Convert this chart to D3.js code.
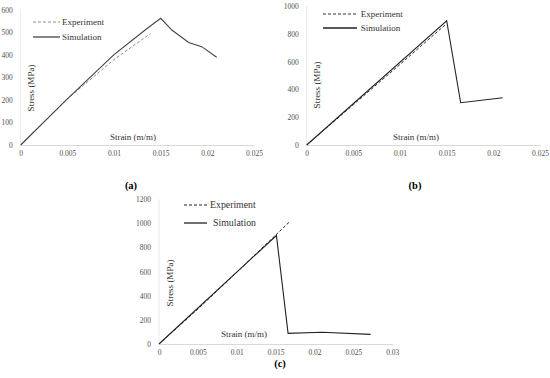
<!DOCTYPE html>
<html>
<head>
<meta charset="utf-8">
<script src="https://cdn.jsdelivr.net/npm/d3@7"></script>
<style>
  html, body { margin: 0; padding: 0; background: #fff; }
  svg { display: block; font-family: "Liberation Serif", "DejaVu Serif", serif; }
</style>
</head>
<body>
<svg id="chart" width="550" height="378"></svg>
<script>
// ---- Data (strain in m/m, stress in MPa) ----
const expA = [[0, 0], [0.005, 205], [0.01, 380], [0.0139, 495]];
const simA = [[0, 0], [0.005, 205], [0.01, 402], [0.0133, 510], [0.015, 563], [0.0162, 511], [0.018, 456], [0.0194, 437], [0.021, 390]];

const expB = [[0, 0], [0.005, 290], [0.01, 580], [0.0149, 868]];
const simB = [[0, 0], [0.015, 894], [0.0165, 304], [0.021, 340]];

const expC = [[0, 0], [0.005, 290], [0.01, 595], [0.0167, 1008]];
const simC = [[0, 0], [0.0151, 900], [0.0166, 88], [0.021, 97], [0.0272, 80]];

const xTicksAB = [0, 0.005, 0.01, 0.015, 0.02, 0.025];
const xTicksC = [0, 0.005, 0.01, 0.015, 0.02, 0.025, 0.03];
const yTicksA = [0, 100, 200, 300, 400, 500, 600];
const yTicksB = [0, 200, 400, 600, 800, 1000];
const yTicksC = [0, 200, 400, 600, 800, 1000, 1200];

const legendLabels = ["Experiment", "Simulation"];
const panelLabels = ["(a)", "(b)", "(c)"];
const xTitle = "Strain (m/m)";
const yTitle = "Stress (MPa)";

// ---- Panel layout ----
const panels = [
  { exp: expA, sim: simA, xt: xTicksAB, yt: yTicksA,
    x0: 20.7, x1: 254, y0: 145, y1: 10,
    expColor: "#8a8a8a", simColor: "#444",
    yT: [30.6, 88], xT: [133, 137],
    leg: { lx0: 33, lx1: 60, ly: [22, 37], tx: [62, 62], fs: 9 },
    lab: [131, 189] },
  { exp: expB, sim: simB, xt: xTicksAB, yt: yTicksB,
    x0: 306.7, x1: 540, y0: 145, y1: 6,
    expColor: "#333", simColor: "#222",
    yT: [316.7, 85], xT: [416, 137],
    leg: { lx0: 323, lx1: 357, ly: [14, 28], tx: [360.7, 360.7], fs: 9 },
    lab: [415, 189] },
  { exp: expC, sim: simC, xt: xTicksC, yt: yTicksC,
    x0: 159, x1: 392.3, y0: 344, y1: 199.3,
    expColor: "#222", simColor: "#222",
    yT: [170, 283], xT: [244, 334],
    leg: { lx0: 184, lx1: 207, ly: [205, 223], tx: [210, 213], fs: 9.8 },
    lab: [280, 367] }
];

const svg = d3.select("#chart");
const fmt = d => d === 0 ? "0" : String(d);

panels.forEach((p, i) => {
  const g = svg.append("g");
  const x = d3.scaleLinear().domain([p.xt[0], p.xt[p.xt.length - 1]]).range([p.x0, p.x1]);
  const y = d3.scaleLinear().domain([p.yt[0], p.yt[p.yt.length - 1]]).range([p.y0, p.y1]);

  // faint y axis line
  g.append("line").attr("x1", x(0)).attr("x2", x(0)).attr("y1", y.range()[1]).attr("y2", p.y0)
    .attr("stroke", "#ececec").attr("stroke-width", 1);

  // x axis
  const xa = g.append("g").attr("transform", `translate(0,${p.y0})`)
    .call(d3.axisBottom(x).tickValues(p.xt).tickFormat(fmt).tickSize(0).tickPadding(6));
  xa.select(".domain").attr("stroke", "#d9d9d9").attr("stroke-width", 1);
  xa.selectAll("text").attr("font-size", 7.5).attr("fill", "#505050")
    .attr("font-family", "Liberation Serif, serif");

  // y axis labels
  const ya = g.append("g").attr("transform", `translate(${p.x0},0)`)
    .call(d3.axisLeft(y).tickValues(p.yt).tickFormat(fmt).tickSize(0).tickPadding(8));
  ya.select(".domain").remove();
  ya.selectAll("text").attr("font-size", 7.5).attr("fill", "#505050")
    .attr("font-family", "Liberation Serif, serif");

  // titles
  g.append("text").attr("x", p.xT[0]).attr("y", p.xT[1]).attr("dy", "0.35em")
    .attr("text-anchor", "middle").attr("font-size", 9).attr("fill", "#333").text(xTitle);
  g.append("text").attr("transform", `translate(${p.yT[0]},${p.yT[1]}) rotate(-90)`)
    .attr("dy", "0.35em").attr("text-anchor", "middle").attr("font-size", 9)
    .attr("fill", "#333").text(yTitle);

  const line = d3.line().x(d => x(d[0])).y(d => y(d[1]));

  g.append("path").datum(p.exp).attr("d", line).attr("fill", "none")
    .attr("stroke", p.expColor).attr("stroke-width", 1).attr("stroke-dasharray", "3,2");
  g.append("path").datum(p.sim).attr("d", line).attr("fill", "none")
    .attr("stroke", p.simColor).attr("stroke-width", 1.1).attr("stroke-linejoin", "miter");

  // legend
  const L = p.leg;
  g.append("line").attr("x1", L.lx0).attr("x2", L.lx1).attr("y1", L.ly[0]).attr("y2", L.ly[0])
    .attr("stroke", p.expColor).attr("stroke-width", 1).attr("stroke-dasharray", "3,2");
  g.append("line").attr("x1", L.lx0).attr("x2", L.lx1).attr("y1", L.ly[1]).attr("y2", L.ly[1])
    .attr("stroke", p.simColor).attr("stroke-width", 1.3);
  legendLabels.forEach((t, k) => {
    g.append("text").attr("x", L.tx[k]).attr("y", L.ly[k]).attr("dy", "0.35em")
      .attr("font-size", L.fs).attr("fill", "#333").text(t);
  });

  // panel label
  g.append("text").attr("x", p.lab[0]).attr("y", p.lab[1]).attr("text-anchor", "middle")
    .attr("font-size", 10.5).attr("font-weight", "bold").attr("fill", "#000").text(panelLabels[i]);
});
</script>
</body>
</html>
